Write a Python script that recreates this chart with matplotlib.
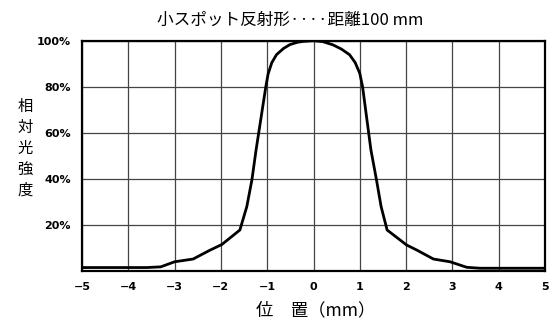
import matplotlib
matplotlib.use("Agg")
import matplotlib.pyplot as plt

plt.rcParams['font.family'] = ['Noto Sans CJK JP', 'DejaVu Sans']

# position (mm) and relative intensity (%)
pos = [-5.0, -4.0, -3.6, -3.3, -3.0, -2.6, -2.24, -1.98, -1.59, -1.44, -1.33,
       -1.24, -1.03, -0.98, -0.9, -0.8, -0.65, -0.51, -0.35, -0.22, 0.0,
       0.2, 0.42, 0.6, 0.78, 0.9, 1.0, 1.06, 1.24, 1.36, 1.46, 1.59, 2.01,
       2.23, 2.59, 2.95, 3.31, 3.6, 4.0, 5.0]
intensity = [1.5, 1.5, 1.5, 1.8, 4.0, 5.2, 9.0, 11.5, 17.8, 28.0, 39.6,
             52.6, 80.0, 85.6, 90.5, 93.9, 96.6, 98.3, 99.3, 99.7, 100.0,
             99.6, 98.2, 96.4, 93.9, 90.5, 85.8, 80.0, 52.6, 39.6, 28.0, 17.8, 11.3,
             9.1, 5.2, 4.0, 1.6, 1.2, 1.2, 1.2]

xticks = [-5, -4, -3, -2, -1, 0, 1, 2, 3, 4, 5]
yticks = [20, 40, 60, 80, 100]
ylabels = ['20%', '40%', '60%', '80%', '100%']

fig = plt.figure(figsize=(5.57, 3.27), dpi=100)
ax = fig.add_axes([82 / 557, 1 - 271 / 327, (545 - 82) / 557, (271 - 40.7) / 327])

ax.plot(pos, intensity, color='black', lw=2.0, solid_capstyle='round',
        solid_joinstyle='round')

ax.set_xlim(-5, 5)
ax.set_ylim(0, 100)
ax.set_xticks(xticks)
ax.set_yticks(yticks)
ax.set_yticklabels(ylabels)
ax.grid(True, color='#444444', lw=0.9)
ax.tick_params(length=0, labelsize=8, pad=8)
for lab in ax.get_xticklabels() + ax.get_yticklabels():
    lab.set_fontweight('bold')
    lab.set_family('DejaVu Sans')
for s in ax.spines.values():
    s.set_linewidth(1.6)

fig.text(290 / 557, 1 - 20 / 327, '小スポット反射形····距離100 mm',
         ha='center', va='center', fontsize=12)
fig.text(25 / 557, 1 - 148 / 327, '相\n対\n光\n強\n度',
         ha='center', va='center', fontsize=11, linespacing=1.3)
fig.text(316 / 557, 1 - 310 / 327, '位　置（mm）',
         ha='center', va='center', fontsize=12.5)

fig.savefig('out.png', dpi=100)
